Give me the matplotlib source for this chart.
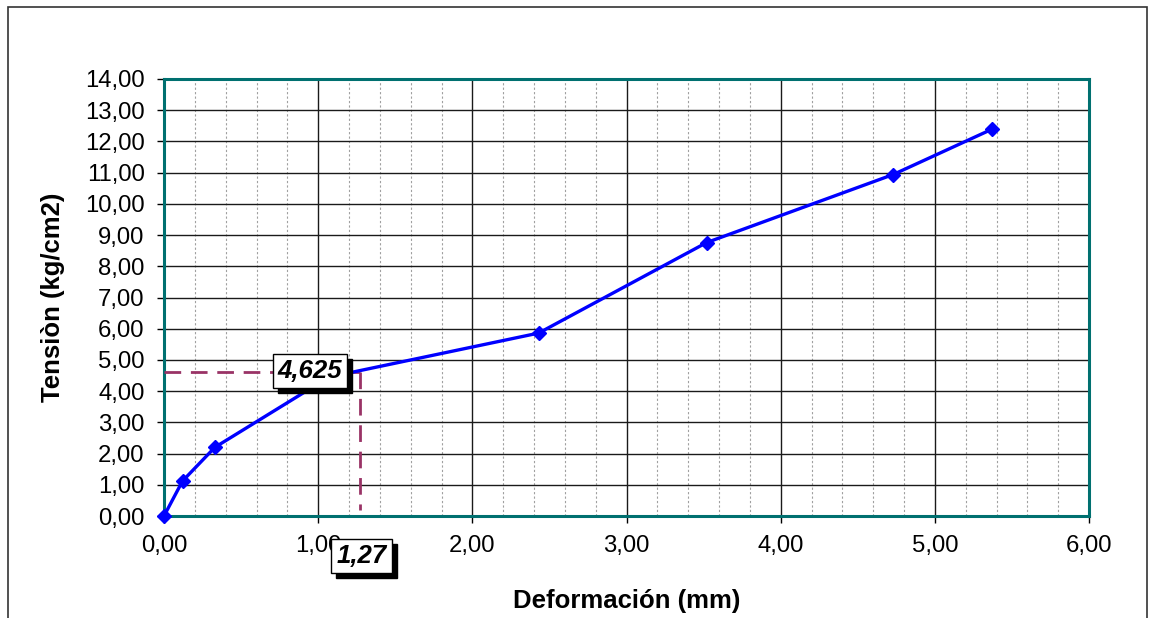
import matplotlib
matplotlib.use("Agg")
import matplotlib.pyplot as plt
from matplotlib.patches import Rectangle
from matplotlib.ticker import MultipleLocator, FuncFormatter
from matplotlib.transforms import offset_copy

# Data
deformacion = [0.00, 0.12, 0.33, 1.07, 2.43, 3.52, 4.73, 5.37]
tension = [0.00, 1.12, 2.20, 4.45, 5.86, 8.76, 10.94, 12.39]
x_mark = 1.27
y_mark = 4.625
x_label_txt = "1,27"
y_label_txt = "4,625"

plt.rcParams['font.family'] = ['Liberation Sans', 'DejaVu Sans']

fig = plt.figure(figsize=(11.5, 6.18), dpi=100)
W, H = 1150, 618
ax = fig.add_axes([164 / W, 1 - 516 / H, (1089 - 164) / W, (516 - 79) / H])

ax.set_xlim(0, 6)
ax.set_ylim(0, 14)
ax.xaxis.set_major_locator(MultipleLocator(1))
ax.xaxis.set_minor_locator(MultipleLocator(0.2))
ax.yaxis.set_major_locator(MultipleLocator(1))
fmt = FuncFormatter(lambda v, p: f"{v:.2f}".replace('.', ','))
ax.xaxis.set_major_formatter(fmt)
ax.yaxis.set_major_formatter(fmt)

ax.grid(which='major', axis='both', color='#1a1a1a', lw=1.0, zorder=0)
ax.grid(which='minor', axis='x', color='#a0a0a0', lw=0.8, ls=(0, (2, 2)), zorder=0)
ax.set_axisbelow(True)

for s in ax.spines.values():
    s.set_color('#007070')
    s.set_linewidth(2.2)

ax.tick_params(axis='both', which='major', direction='out', length=5, width=1,
               color='black', labelsize=17.2, pad=9)
ax.tick_params(axis='x', which='minor', length=0)

# dashed reference lines
ax.plot([0, x_mark], [y_mark, y_mark], color='#993366', lw=2.0, dashes=(6, 3.5), zorder=3)
ax.plot([x_mark, x_mark], [y_mark, 0.2], color='#993366', lw=2.0, dashes=(6, 3.5), zorder=3)

ax.plot(deformacion, tension, color='#0000FF', lw=2.4, marker='D', markersize=7.5,
        markerfacecolor='#0000FF', markeredgecolor='#0000FF', zorder=4, clip_on=False)

ax.set_xlabel('Deformación (mm)', fontsize=18.5, fontweight='bold', labelpad=23)
ax.set_ylabel('Tensiòn (kg/cm2)', fontsize=18.5, fontweight='bold', labelpad=14)


def boxed(x, y, txt):
    sh = offset_copy(ax.transData, fig=fig, x=5, y=-5, units='dots')
    kw = dict(fontsize=18.5, fontweight='bold', fontstyle='italic', ha='center',
              va='center', clip_on=False, zorder=6)
    ax.text(x, y, txt, transform=sh, color='black',
            bbox=dict(boxstyle='square,pad=0.2', fc='black', ec='black', lw=1), **kw)
    ax.text(x, y, txt, color='black',
            bbox=dict(boxstyle='square,pad=0.2', fc='white', ec='black', lw=1), **kw)


boxed(0.947, 4.65, y_label_txt)
boxed(1.28, -1.28, x_label_txt)

# outer chart border
fig.patches.append(Rectangle((8 / W, -0.1), (1147 - 8) / W, 1.1 - 7 / H,
                             transform=fig.transFigure, fill=False,
                             ec='#333333', lw=1.2))

fig.savefig('out.png', dpi=100)
